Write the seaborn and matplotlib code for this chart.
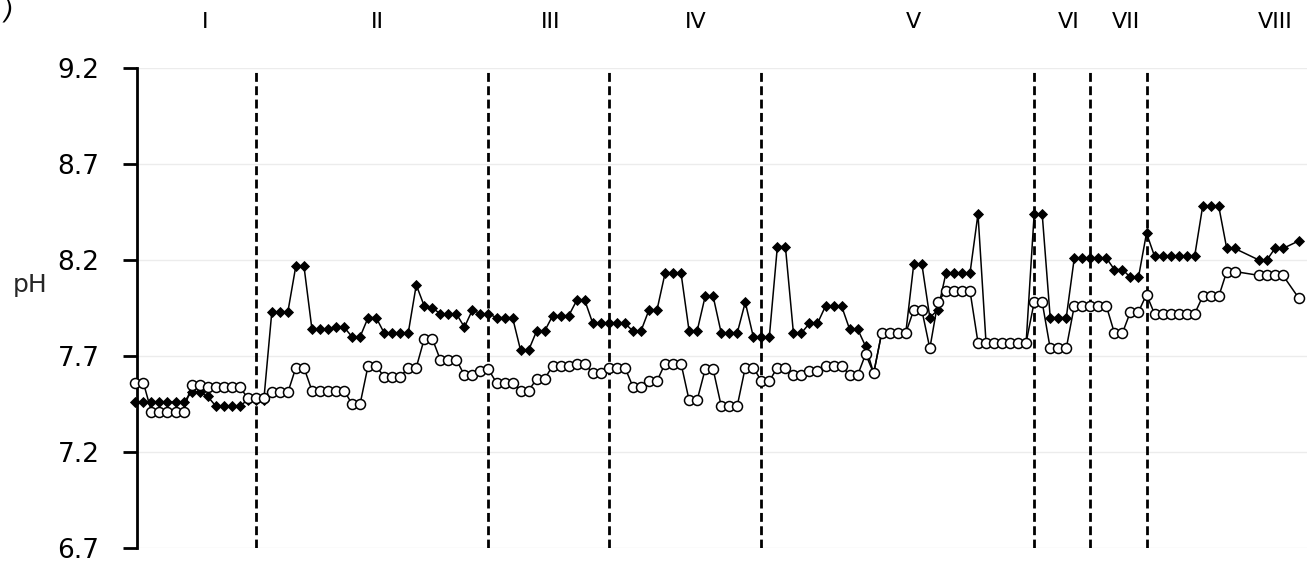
import matplotlib
matplotlib.use("Agg")
import matplotlib.pyplot as plt
import matplotlib.transforms as mtransforms
import numpy as np
import pandas as pd
import seaborn as sns

# ---------------- data ----------------
days = [
    0, 1, 2, 3, 4, 5, 6, 7, 8, 9, 10, 11, 12, 13, 14, 15, 16, 17, 18, 19,
    20, 21, 22, 23, 24, 25, 26, 27, 28, 29, 30, 31, 32, 33, 34, 35, 36, 37, 38, 39,
    40, 41, 42, 43, 44, 45, 46, 47, 48, 49, 50, 51, 52, 53, 54, 55, 56, 57, 58, 59,
    60, 61, 62, 63, 64, 65, 66, 67, 68, 69, 70, 71, 72, 73, 74, 75, 76, 77, 78, 79,
    80, 81, 82, 83, 84, 85, 86, 87, 88, 89, 90, 91, 92, 93, 94, 95, 96, 97, 98, 99,
    100, 101, 102, 103, 104, 105, 106, 107, 108, 109, 110, 111, 112, 113, 114, 115,
    116, 117, 118, 119, 120, 121, 122, 123, 124, 125, 126, 127, 128, 129, 130, 131,
    132, 133, 134, 135, 136, 137, 140, 141, 142, 143, 145,
]

ph_filled = [
    7.46, 7.46, 7.46, 7.46, 7.46, 7.46, 7.46, 7.51, 7.51, 7.49,
    7.44, 7.44, 7.44, 7.44, 7.47, 7.47, 7.47, 7.93, 7.93, 7.93,
    8.17, 8.17, 7.84, 7.84, 7.84, 7.85, 7.85, 7.80, 7.80, 7.90,
    7.90, 7.82, 7.82, 7.82, 7.82, 8.07, 7.96, 7.95, 7.92, 7.92,
    7.92, 7.85, 7.94, 7.92, 7.92, 7.90, 7.90, 7.90, 7.73, 7.73,
    7.83, 7.83, 7.91, 7.91, 7.91, 7.99, 7.99, 7.87, 7.87, 7.87,
    7.87, 7.87, 7.83, 7.83, 7.94, 7.94, 8.13, 8.13, 8.13, 7.83,
    7.83, 8.01, 8.01, 7.82, 7.82, 7.82, 7.98, 7.80, 7.80, 7.80,
    8.27, 8.27, 7.82, 7.82, 7.87, 7.87, 7.96, 7.96, 7.96, 7.84,
    7.84, 7.75, 7.61, 7.82, 7.82, 7.82, 7.82, 8.18, 8.18, 7.90,
    7.94, 8.13, 8.13, 8.13, 8.13, 8.44, 7.77, 7.77, 7.77, 7.77,
    7.77, 7.77, 8.44, 8.44, 7.90, 7.90, 7.90, 8.21, 8.21, 8.21,
    8.21, 8.21, 8.15, 8.15, 8.11, 8.11, 8.34, 8.22, 8.22, 8.22,
    8.22, 8.22, 8.22, 8.48, 8.48, 8.48, 8.26, 8.26, 8.20, 8.20,
    8.26, 8.26, 8.30,
]

ph_open = [
    7.56, 7.56, 7.41, 7.41, 7.41, 7.41, 7.41, 7.55, 7.55, 7.54,
    7.54, 7.54, 7.54, 7.54, 7.48, 7.48, 7.48, 7.51, 7.51, 7.51,
    7.64, 7.64, 7.52, 7.52, 7.52, 7.52, 7.52, 7.45, 7.45, 7.65,
    7.65, 7.59, 7.59, 7.59, 7.64, 7.64, 7.79, 7.79, 7.68, 7.68,
    7.68, 7.60, 7.60, 7.62, 7.63, 7.56, 7.56, 7.56, 7.52, 7.52,
    7.58, 7.58, 7.65, 7.65, 7.65, 7.66, 7.66, 7.61, 7.61, 7.64,
    7.64, 7.64, 7.54, 7.54, 7.57, 7.57, 7.66, 7.66, 7.66, 7.47,
    7.47, 7.63, 7.63, 7.44, 7.44, 7.44, 7.64, 7.64, 7.57, 7.57,
    7.64, 7.64, 7.60, 7.60, 7.62, 7.62, 7.65, 7.65, 7.65, 7.60,
    7.60, 7.71, 7.61, 7.82, 7.82, 7.82, 7.82, 7.94, 7.94, 7.74,
    7.98, 8.04, 8.04, 8.04, 8.04, 7.77, 7.77, 7.77, 7.77, 7.77,
    7.77, 7.77, 7.98, 7.98, 7.74, 7.74, 7.74, 7.96, 7.96, 7.96,
    7.96, 7.96, 7.82, 7.82, 7.93, 7.93, 8.02, 7.92, 7.92, 7.92,
    7.92, 7.92, 7.92, 8.01, 8.01, 8.01, 8.14, 8.14, 8.12, 8.12,
    8.12, 8.12, 8.00,
]

phase_bounds = [15, 44, 59, 78, 112, 119, 126]
phase_names = ["I", "II", "III", "IV", "V", "VI", "VII", "VIII"]
phase_label_pos = [8.7, 30.2, 51.7, 69.8, 96.9, 116.3, 123.4, 142.0]

y_ticks = [6.7, 7.2, 7.7, 8.2, 8.7, 9.2]

df_filled = pd.DataFrame({"day": days, "pH": ph_filled})
df_open = pd.DataFrame({"day": days, "pH": ph_open})

# ---------------- figure ----------------
sns.set_theme(style="white")
plt.rcParams["font.family"] = ["DejaVu Sans"]

W, H = 1307, 562
fig = plt.figure(figsize=(W / 100, H / 100), dpi=100)
ax = fig.add_axes([137 / W, 1 - 548 / H, (W - 137) / W, (548 - 68) / H])

# horizontal grid
for yt in y_ticks:
    ax.axhline(yt, color="#ececec", lw=1.0, zorder=0)

# phase boundaries
for xb in phase_bounds:
    ax.axvline(xb, color="black", lw=2.0, ls=(0, (3.2, 1.6)), zorder=1)

sns.lineplot(data=df_filled, x="day", y="pH", ax=ax, color="black",
             linewidth=1.1, marker="D", markersize=5.2,
             markerfacecolor="black", markeredgecolor="black",
             markeredgewidth=0.6, zorder=2, clip_on=False)
sns.lineplot(data=df_open, x="day", y="pH", ax=ax, color="black",
             linewidth=1.1, marker="o", markersize=7.2,
             markerfacecolor="white", markeredgecolor="black",
             markeredgewidth=1.1, zorder=3, clip_on=False)

ax.set_xlim(0.2, 146.0)
ax.set_ylim(6.7, 9.2)
ax.set_yticks(y_ticks)
ax.set_yticklabels([f"{t:.1f}" for t in y_ticks], fontsize=19)
ax.set_xticks([])
ax.set_xlabel("")
ax.set_ylabel("pH", rotation=0, fontsize=18, va="center", ha="center")
ax.yaxis.set_label_coords(-0.0915, 0.548)

for side in ["top", "right", "bottom"]:
    ax.spines[side].set_visible(False)
ax.spines["left"].set_linewidth(2.0)
ax.spines["left"].set_color("black")
ax.tick_params(axis="y", which="major", direction="out", length=10,
               width=2.0, color="black", pad=17, labelcolor="black", left=True)

trans = mtransforms.blended_transform_factory(ax.transData, ax.transAxes)
for name, pos in zip(phase_names, phase_label_pos):
    ax.text(pos, 1.096, name, transform=trans, ha="center", va="center",
            fontsize=16, color="black", clip_on=False)

fig.text(4 / W, 1 - 12 / H, ")", ha="left", va="center", fontsize=18,
         fontstyle="italic", color="black")

fig.savefig("out.png", dpi=100)
